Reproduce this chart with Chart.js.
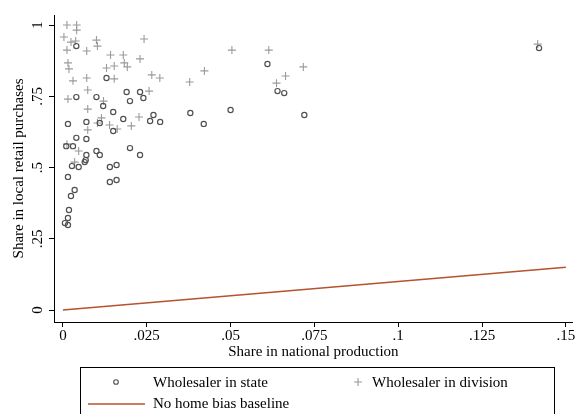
<!DOCTYPE html>
<html><head><meta charset="utf-8">
<script src="https://cdn.jsdelivr.net/npm/chart.js@4.4.1/dist/chart.umd.min.js"></script>
<style>html,body{margin:0;padding:0;background:#fff;overflow:hidden}canvas{display:block}</style>
</head><body>
<canvas id="c" width="578" height="414"></canvas>
<script>
// ---- Data ----
const stateX=[0.004,0.013,0.019,0.023,0.020,0.024,0.004,0.010,0.012,0.015,0.018,0.027,0.026,0.029,0.015,0.020,0.023,0.038,0.042,0.050,0.061,0.064,0.066,0.072,0.142,0.0015,0.007,0.011,0.004,0.007,0.001,0.003,0.007,0.0068,0.0065,0.010,0.011,0.0027,0.0047,0.014,0.016,0.014,0.016,0.0015,0.0035,0.0024,0.0018,0.0015,0.0006,0.0015];
const stateY=[0.926,0.814,0.765,0.765,0.733,0.744,0.747,0.747,0.716,0.695,0.670,0.684,0.663,0.660,0.628,0.568,0.544,0.691,0.653,0.702,0.863,0.768,0.761,0.684,0.919,0.653,0.660,0.656,0.604,0.600,0.575,0.575,0.544,0.526,0.519,0.558,0.544,0.505,0.502,0.502,0.509,0.449,0.456,0.467,0.421,0.400,0.351,0.323,0.305,0.298];
const divisionX=[0.0012,0.0041,0.0041,0.0003,0.0024,0.0038,0.0012,0.0071,0.010,0.0103,0.0242,0.0142,0.018,0.0015,0.0018,0.013,0.0153,0.0183,0.0192,0.023,0.003,0.0071,0.0153,0.0265,0.0289,0.0074,0.0257,0.0015,0.0121,0.0074,0.0115,0.0227,0.0204,0.0103,0.0139,0.0162,0.0074,0.0047,0.0035,0.0012,0.0378,0.0422,0.0504,0.0614,0.0664,0.0637,0.0717,0.1416];
const divisionY=[1.0,1.0,0.982,0.958,0.940,0.944,0.912,0.909,0.947,0.926,0.951,0.895,0.895,0.867,0.846,0.849,0.856,0.867,0.853,0.881,0.804,0.814,0.811,0.825,0.814,0.772,0.768,0.740,0.733,0.705,0.674,0.677,0.646,0.656,0.649,0.635,0.632,0.558,0.519,0.582,0.800,0.839,0.912,0.912,0.821,0.796,0.853,0.933];
const baselineX=[0,0.15];
const baselineY=[0,0.15];
const xTickValues=[0,0.025,0.05,0.075,0.1,0.125,0.15];
const xTickLabels=['0','.025','.05','.075','.1','.125','.15'];
const yTickValues=[0,0.25,0.5,0.75,1];
const yTickLabels=['0','.25','.5','.75','1'];
const seriesNames=['Wholesaler in state','Wholesaler in division','No home bias baseline'];
const xTitle='Share in national production';
const yTitle='Share in local retail purchases';

const FONT="'Liberation Serif','Times New Roman',serif";
const C_STATE='#505050', C_DIV='#9a9a9a', C_LINE='#b4532d';
const toPts=(xs,ys)=>xs.map((x,i)=>({x:x,y:ys[i]}));

const extras={
  id:'extras',
  afterDraw(chart){
    const ctx=chart.ctx, ys=chart.scales.y, a=chart.chartArea;
    ctx.save();
    ctx.fillStyle='#000';
    ctx.font='15px '+FONT;
    ctx.textAlign='center';
    ctx.textBaseline='middle';
    yTickValues.forEach((v,i)=>{
      const py=ys.getPixelForValue(v);
      ctx.save(); ctx.translate(38,py); ctx.rotate(-Math.PI/2); ctx.fillText(yTickLabels[i],0,0); ctx.restore();
    });
    ctx.save(); ctx.translate(19,(a.top+a.bottom)/2); ctx.rotate(-Math.PI/2); ctx.fillText(yTitle,0,0); ctx.restore();
    // legend
    ctx.strokeStyle='#000'; ctx.lineWidth=1;
    ctx.strokeRect(80.5,367.5,474,70);
    ctx.textAlign='left';
    ctx.fillStyle='#000';
    ctx.fillText(seriesNames[0],153,383);
    ctx.fillText(seriesNames[1],372,383);
    ctx.fillText(seriesNames[2],153,404);
    ctx.strokeStyle=C_STATE; ctx.lineWidth=1.1;
    ctx.beginPath(); ctx.arc(116,382,2.3,0,Math.PI*2); ctx.stroke();
    ctx.strokeStyle=C_DIV;
    ctx.beginPath(); ctx.moveTo(354,382); ctx.lineTo(362,382); ctx.moveTo(358,378); ctx.lineTo(358,386); ctx.stroke();
    ctx.strokeStyle=C_LINE; ctx.lineWidth=1.3;
    ctx.beginPath(); ctx.moveTo(88,404); ctx.lineTo(145,404); ctx.stroke();
    ctx.restore();
  }
};

new Chart(document.getElementById('c'),{
  type:'scatter',
  data:{datasets:[
    {label:seriesNames[2],type:'line',data:toPts(baselineX,baselineY),borderColor:C_LINE,borderWidth:1.3,pointRadius:0,fill:false,order:3},
    {label:seriesNames[1],data:toPts(divisionX,divisionY),pointStyle:'cross',pointRadius:4,borderColor:C_DIV,backgroundColor:C_DIV,pointBorderWidth:1.1,order:2},
    {label:seriesNames[0],data:toPts(stateX,stateY),pointStyle:'circle',pointRadius:2.6,borderColor:C_STATE,backgroundColor:'rgba(0,0,0,0)',pointBorderWidth:1.2,order:1}
  ]},
  options:{
    responsive:false,animation:false,devicePixelRatio:1,events:[],
    layout:{padding:{top:15,left:0,right:0,bottom:47}},
    plugins:{legend:{display:false},tooltip:{enabled:false}},
    scales:{
      x:{type:'linear',min:-0.00266,max:0.15207,
        afterBuildTicks:s=>{s.ticks=xTickValues.map(v=>({value:v}));},
        afterFit:s=>{s.height=45;s.paddingLeft=0;s.paddingRight=0;},
        ticks:{color:'#000',font:{family:FONT,size:15},padding:0,maxRotation:0,minRotation:0,autoSkip:false,
          callback:(v)=>{const i=xTickValues.findIndex(t=>Math.abs(t-v)<1e-9);return i>=0?xTickLabels[i]:'';}},
        grid:{display:true,drawOnChartArea:false,drawTicks:true,tickLength:5,color:'#000',lineWidth:1},
        border:{display:true,color:'#000',width:1},
        title:{display:true,text:xTitle,color:'#000',font:{family:FONT,size:15},padding:{top:0,bottom:6}}
      },
      y:{type:'linear',min:-0.0421,max:1.0351,
        afterBuildTicks:s=>{s.ticks=yTickValues.map(v=>({value:v}));},
        afterFit:s=>{s.width=54;},
        ticks:{display:false},
        grid:{display:true,drawOnChartArea:false,drawTicks:true,tickLength:5,color:'#000',lineWidth:1},
        border:{display:true,color:'#000',width:1}
      }
    }
  },
  plugins:[extras]
});
</script>
</body></html>
